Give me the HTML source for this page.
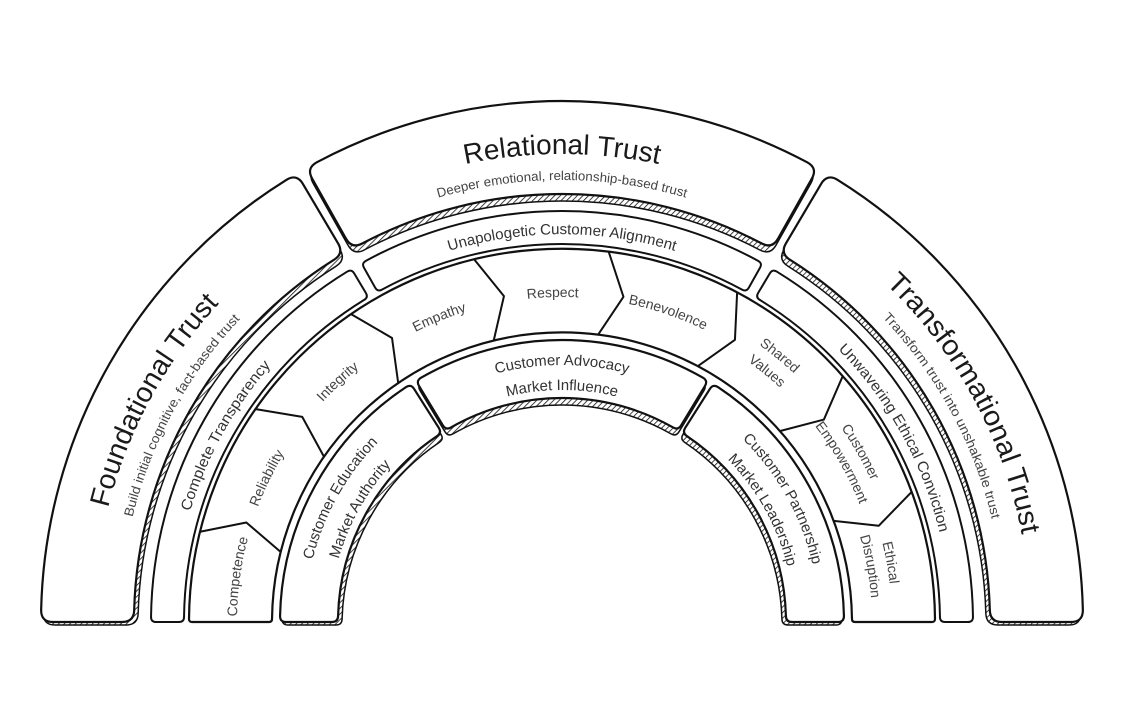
<!DOCTYPE html>
<html><head><meta charset="utf-8"><style>
html,body{margin:0;padding:0;background:#fff;}
svg{display:block;}
text{font-family:"Liberation Sans",sans-serif;}
.t{font-size:28px;fill:#1a1a1a;}
.s{font-size:13px;fill:#444;}
.m{font-size:15px;fill:#333;}
.n{font-size:14px;fill:#444;}
</style></head><body>
<svg id="svg" width="1122" height="708" viewBox="0 0 1122 708" xmlns="http://www.w3.org/2000/svg">
<defs>
<pattern id="hatch" width="4" height="4" patternUnits="userSpaceOnUse" patternTransform="rotate(45)">
<rect width="4" height="4" fill="#fff"/><line x1="0" y1="0" x2="0" y2="4" stroke="#111" stroke-width="1.6"/>
</pattern>
<path id="r468" d="M94 622 A468 468 0 0 1 1030 622" fill="none"/>
<path id="r442" d="M120 622 A442 442 0 0 1 1004 622" fill="none"/>
<path id="r388" d="M174 622 A388 388 0 0 1 950 622" fill="none"/>
<path id="r340" d="M222 622 A340 340 0 0 1 902 622" fill="none"/>
<path id="r330" d="M232 622 A330 330 0 0 1 892 622" fill="none"/>
<path id="r325" d="M237 622 A325 325 0 0 1 887 622" fill="none"/>
<path id="r320" d="M242 622 A320 320 0 0 1 882 622" fill="none"/>
<path id="r310" d="M252 622 A310 310 0 0 1 872 622" fill="none"/>
<path id="r257" d="M305 622 A257 257 0 0 1 819 622" fill="none"/>
<path id="r232" d="M330 622 A232 232 0 0 1 794 622" fill="none"/>
</defs>
<rect width="1122" height="708" fill="#fff"/>
<g id="shapes"></g>
<g id="labels">
<text class="t"><textPath href="#r468" startOffset="15.83%" text-anchor="middle" textLength="235" lengthAdjust="spacingAndGlyphs">Foundational Trust</textPath></text>
<text class="s"><textPath href="#r442" startOffset="15.83%" text-anchor="middle" textLength="228" lengthAdjust="spacingAndGlyphs">Build initial cognitive, fact-based trust</textPath></text>
<text class="t"><textPath href="#r468" startOffset="50%" text-anchor="middle" textLength="195" lengthAdjust="spacingAndGlyphs">Relational Trust</textPath></text>
<text class="s"><textPath href="#r442" startOffset="50%" text-anchor="middle" textLength="251" lengthAdjust="spacingAndGlyphs">Deeper emotional, relationship-based trust</textPath></text>
<text class="t"><textPath href="#r468" startOffset="84.17%" text-anchor="middle" textLength="290" lengthAdjust="spacingAndGlyphs">Transformational Trust</textPath></text>
<text class="s"><textPath href="#r442" startOffset="84.17%" text-anchor="middle" textLength="232" lengthAdjust="spacingAndGlyphs">Transform trust into unshakable trust</textPath></text>

<text class="m"><textPath href="#r388" startOffset="16.1%" text-anchor="middle" textLength="168" lengthAdjust="spacingAndGlyphs">Complete Transparency</textPath></text>
<text class="m"><textPath href="#r388" startOffset="50%" text-anchor="middle" textLength="229" lengthAdjust="spacingAndGlyphs">Unapologetic Customer Alignment</textPath></text>
<text class="m"><textPath href="#r388" startOffset="83.9%" text-anchor="middle" textLength="212" lengthAdjust="spacingAndGlyphs">Unwavering Ethical Conviction</textPath></text>

<text class="n"><textPath href="#r325" startOffset="4.44%" text-anchor="middle">Competence</textPath></text>
<text class="n"><textPath href="#r325" startOffset="14.44%" text-anchor="middle">Reliability</textPath></text>
<text class="n"><textPath href="#r325" startOffset="26.1%" text-anchor="middle">Integrity</textPath></text>
<text class="n"><textPath href="#r325" startOffset="37.8%" text-anchor="middle">Empathy</textPath></text>
<text class="n"><textPath href="#r325" startOffset="49.1%" text-anchor="middle">Respect</textPath></text>
<text class="n"><textPath href="#r325" startOffset="60.5%" text-anchor="middle">Benevolence</textPath></text>
<text class="n"><textPath href="#r340" startOffset="71.8%" text-anchor="middle">Shared</textPath></text>
<text class="n"><textPath href="#r320" startOffset="71.8%" text-anchor="middle">Values</textPath></text>
<text class="n"><textPath href="#r340" startOffset="83.5%" text-anchor="middle">Customer</textPath></text>
<text class="n"><textPath href="#r320" startOffset="83.5%" text-anchor="middle">Empowerment</textPath></text>
<text class="n"><textPath href="#r330" startOffset="94.3%" text-anchor="middle">Ethical</textPath></text>
<text class="n"><textPath href="#r310" startOffset="94.3%" text-anchor="middle">Disruption</textPath></text>

<text class="m"><textPath href="#r257" startOffset="16.2%" text-anchor="middle">Customer Education</textPath></text>
<text class="m"><textPath href="#r232" startOffset="16.2%" text-anchor="middle">Market Authority</textPath></text>
<text class="m"><textPath href="#r257" startOffset="50%" text-anchor="middle">Customer Advocacy</textPath></text>
<text class="m"><textPath href="#r232" startOffset="50%" text-anchor="middle">Market Influence</textPath></text>
<text class="m"><textPath href="#r257" startOffset="83.8%" text-anchor="middle">Customer Partnership</textPath></text>
<text class="m"><textPath href="#r232" startOffset="83.8%" text-anchor="middle">Market Leadership</textPath></text>
</g>
</svg>
<script>
(function(){
var CX=562,CY=622,NS="http://www.w3.org/2000/svg";
function P(r,a){a=a*Math.PI/180;return (CX-r*Math.cos(a)).toFixed(2)+" "+(CY-r*Math.sin(a)).toFixed(2);}
function sector(r1,r2,a1,a2,c){
 var d1=c/r1*180/Math.PI,d2=c/r2*180/Math.PI;
 return "M"+P(r1-c,a1)+" Q"+P(r1,a1)+" "+P(r1,a1+d1)+
 " A"+r1+" "+r1+" 0 0 1 "+P(r1,a2-d1)+
 " Q"+P(r1,a2)+" "+P(r1-c,a2)+
 " L"+P(r2+c,a2)+
 " Q"+P(r2,a2)+" "+P(r2,a2-d2)+
 " A"+r2+" "+r2+" 0 0 0 "+P(r2,a1+d2)+
 " Q"+P(r2,a1)+" "+P(r2+c,a1)+" Z";
}
var g=document.getElementById("shapes");
function add(d,fill,sw,tr){var p=document.createElementNS(NS,"path");p.setAttribute("d",d);p.setAttribute("fill",fill);p.setAttribute("stroke","#111");p.setAttribute("stroke-width",sw);p.setAttribute("stroke-linejoin","round");if(tr)p.setAttribute("transform",tr);g.appendChild(p);}
var b1=[[0,59.4],[60.6,119.4],[120.6,180]];
b1.forEach(function(s){add(sector(519,424,s[0],s[1],12),"url(#hatch)",1.5,"translate(0,3)");});
b1.forEach(function(s){add(sector(521,428,s[0],s[1],12),"#fff",2.2);});
var b2=[[0,59.2],[60.8,119.2],[120.8,180]];
b2.forEach(function(s){add(sector(411,378,s[0],s[1],5),"#fff",2);});
add(sector(373,290,0,180,3),"#fff",2.2);
var bs=[14,34.8,55.6,76.4,97.2,118,138.8,159.6];
bs.forEach(function(b){add("M"+P(373,b)+" L"+P(331,b+3.5)+" L"+P(290,b),"none",2);});
var b4=[[0,57.6],[58.8,121.2],[122.4,180]];
b4.forEach(function(s){add(sector(280,220,s[0],s[1],6),"url(#hatch)",1.5,"translate(0,3)");});
b4.forEach(function(s){add(sector(282,224,s[0],s[1],6),"#fff",2.2);});
})();
</script>
</body></html>
